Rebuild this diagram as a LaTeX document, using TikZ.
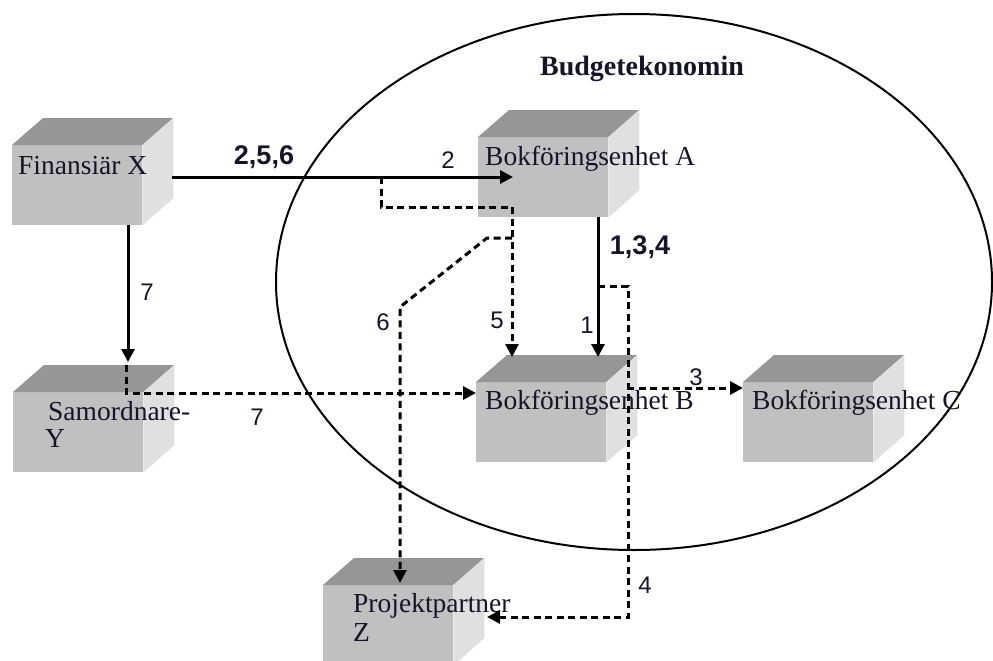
\documentclass[tikz,border=0pt]{standalone}
\usepackage{fontspec}
\setmainfont{Liberation Serif}
\newfontfamily\lsans{Liberation Sans}
\usetikzlibrary{arrows.meta,shapes.geometric,calc}
\definecolor{frontc}{HTML}{C0C0C0}
\definecolor{topc}{HTML}{969696}
\definecolor{sidec}{HTML}{E0E0E0}
\definecolor{inkc}{HTML}{15152A}
\newcommand{\mkcube}[3]{%
  \node[frontface] (#1) at (#2,#3) {};
  \fill[topc] (#1.north west) -- ++(31,-27) -- ++(130,0) -- (#1.north east) -- cycle;
  \fill[sidec] (#1.north east) -- ++(31,-27) -- ++(0,80) -- (#1.south east) -- cycle;
}
\begin{document}
\begin{tikzpicture}[x=1pt,y=-1pt,
  frontface/.style={anchor=north west,minimum width=130pt,minimum height=80pt,inner sep=0pt,fill=frontc},
  boxtext/.style={anchor=base west,inner sep=0pt,text=inkc,font=\fontsize{27.5}{30}\selectfont},
  numlab/.style={anchor=base,inner sep=0pt,text=inkc,font=\lsans\fontsize{24}{26}\selectfont},
  boldlab/.style={anchor=base,inner sep=0pt,text=inkc,font=\lsans\bfseries\fontsize{27}{29}\selectfont},
  conn/.style={line width=3pt,-{Triangle[length=13pt,width=13pt]}},
  dconn/.style={line width=3pt,dash pattern=on 7pt off 4.5pt,-{Triangle[length=13pt,width=13pt]}}
]
\path[use as bounding box] (0,0) rectangle (993,661);
\fill[white] (0,0) rectangle (993,661);

% cubes
\mkcube{X}{12}{145}
\mkcube{A}{478}{137}
\mkcube{Y}{13}{392}
\mkcube{B}{476}{382}
\mkcube{C}{743}{382}
\mkcube{Z}{323}{585}

% box texts
\node[boxtext] (tX) at (18,174) {Finansiär X};
\node[boxtext] (tA) at (485,165) {Bokföringsenhet A};
\node[boxtext] (tB) at (485,409) {Bokföringsenhet B};
\node[boxtext] (tC) at (752,409) {Bokföringsenhet C};
\node[boxtext] (tY1) at (48,420) {Samordnare-};
\node[boxtext] (tY2) at (45,447) {Y};
\node[boxtext] (tZ1) at (353,612) {Projektpartner};
\node[boxtext] (tZ2) at (353,641) {Z};

% ellipse
\node[ellipse,draw,line width=2pt,minimum width=716pt,minimum height=536pt,inner sep=0pt] (budget) at (634,282) {};
\node[anchor=base,inner sep=0pt,text=inkc,font=\bfseries\fontsize{28}{30}\selectfont] (title) at (642,75) {Budgetekonomin};

% waypoints
\coordinate (xa1) at (172,177);
\coordinate (xa2) at (513,177);
\coordinate (p5a) at (381,177);
\coordinate (p5b) at (381,207);
\coordinate (p5c) at (512,207);
\coordinate (p5d) at (512,357);
\coordinate (p6a) at (512,238);
\coordinate (p6b) at (487,238);
\coordinate (p6c) at (400,307);
\coordinate (p6d) at (400,583);
\coordinate (p1a) at (598,217);
\coordinate (p1b) at (598,357);
\coordinate (p4a) at (598,286);
\coordinate (p4b) at (628,286);
\coordinate (p4c) at (628,617);
\coordinate (p4d) at (487,617);
\coordinate (p3a) at (627,388);
\coordinate (p3b) at (743,388);
\coordinate (p7a) at (128,225);
\coordinate (p7b) at (128,362);
\coordinate (p7c) at (126,365);
\coordinate (p7d) at (126,393);
\coordinate (p7e) at (476,393);

% connectors
\draw[conn] (xa1) -- (xa2);
\draw[dconn] (p5a) -- (p5b) -- (p5c) -- (p5d);
\draw[dconn] (p6a) -- (p6b) -- (p6c) -- (p6d);
\draw[conn] (p1a) -- (p1b);
\draw[dconn] (p4a) -- (p4b) -- (p4c) -- (p4d);
\draw[dconn] (p3a) -- (p3b);
\draw[conn] (p7a) -- (p7b);
\draw[dconn] (p7c) -- (p7d) -- (p7e);

% labels
\node[boldlab] (l256) at (264,164) {2,5,6};
\node[boldlab] (l134) at (640,254) {1,3,4};
\node[numlab] (l2) at (448,168) {2};
\node[numlab] (l5) at (497,328) {5};
\node[numlab] (l6) at (383,330) {6};
\node[numlab] (l1) at (587,333) {1};
\node[numlab] (l3) at (696,385) {3};
\node[numlab] (l7a) at (147,300) {7};
\node[numlab] (l7b) at (257,425) {7};
\node[numlab] (l4) at (645,593) {4};
\end{tikzpicture}
\end{document}
